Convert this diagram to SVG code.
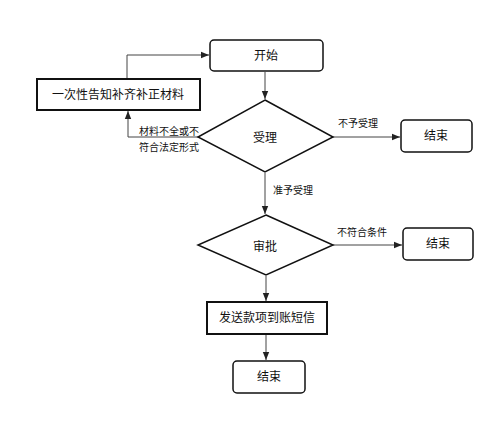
<svg xmlns="http://www.w3.org/2000/svg" width="500" height="448" viewBox="0 0 500 448">
<style>
.bg{fill:#fff}
.rr{fill:#fff;stroke:#111;stroke-width:1.5}
.sq{fill:#fff;stroke:#111;stroke-width:2}
.dm{fill:#fff;stroke:#111;stroke-width:1.5}
.ln{fill:none;stroke:#444;stroke-width:1}
text{font-family:"Liberation Sans","Noto Sans CJK SC",sans-serif;fill:#111}
.t{font-size:12px;text-anchor:middle;dominant-baseline:central}
.s{font-size:10px;dominant-baseline:central}
</style>
<defs>
<marker id="ah" viewBox="0 0 10 10" refX="10" refY="5" markerWidth="8" markerHeight="8" markerUnits="userSpaceOnUse" orient="auto">
<path d="M0,1 L10,5 L0,9 z" fill="#222"/>
</marker>
</defs>
<rect class="bg" x="0" y="0" width="500" height="448"/>
<g id="connectors">
<polyline class="ln" points="127,79 127,55 209,55" marker-end="url(#ah)"/>
<line class="ln" x1="265" y1="72" x2="265" y2="99" marker-end="url(#ah)"/>
<polyline class="ln" points="198,137 128,137 128,111" marker-end="url(#ah)"/>
<line class="ln" x1="333" y1="137" x2="400" y2="137" marker-end="url(#ah)"/>
<line class="ln" x1="265" y1="173" x2="265" y2="214" marker-end="url(#ah)"/>
<line class="ln" x1="333" y1="245" x2="402" y2="245" marker-end="url(#ah)"/>
<line class="ln" x1="266" y1="276" x2="266" y2="301" marker-end="url(#ah)"/>
<line class="ln" x1="266" y1="335" x2="266" y2="360" marker-end="url(#ah)"/>
<text class="s" x="139" y="131">材料不全或不</text>
<text class="s" x="139" y="147">符合法定形式</text>
<text class="s" x="338" y="123">不予受理</text>
<text class="s" x="273" y="190">准予受理</text>
<text class="s" x="337" y="232">不符合条件</text>
</g>
<g id="start">
<rect class="rr" x="210" y="40" width="113" height="31" rx="4"/>
<text class="t" x="266" y="56">开始</text>
</g>
<g id="notify">
<rect class="sq" x="37" y="79" width="163" height="31"/>
<text class="t" x="118" y="95">一次性告知补齐补正材料</text>
</g>
<g id="accept">
<polygon class="dm" points="265,100 333,137 265,172 198,137"/>
<text class="t" x="265" y="138">受理</text>
</g>
<g id="end1">
<rect class="rr" x="401" y="120" width="71" height="32" rx="4"/>
<text class="t" x="436" y="136">结束</text>
</g>
<g id="approve">
<polygon class="dm" points="266,215 333,245 266,275 198,245"/>
<text class="t" x="265" y="247">审批</text>
</g>
<g id="end2">
<rect class="rr" x="403" y="228" width="70" height="32" rx="4"/>
<text class="t" x="438" y="244">结束</text>
</g>
<g id="sms">
<rect class="sq" x="207" y="302" width="120" height="32"/>
<text class="t" x="267" y="318">发送款项到账短信</text>
</g>
<g id="end3">
<rect class="rr" x="233" y="361" width="72" height="32" rx="4"/>
<text class="t" x="269" y="377">结束</text>
</g>
</svg>
